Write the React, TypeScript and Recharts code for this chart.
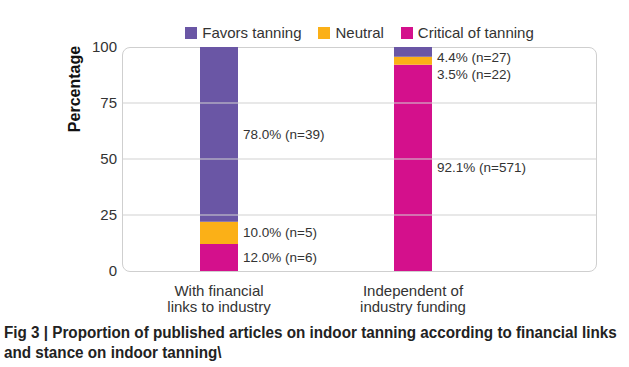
import {
  BarChart, Bar, XAxis, YAxis, Legend, LabelList, ReferenceLine,
} from 'recharts';

const categories = ['With financial links to industry', 'Independent of industry funding'];
const categoryLines = [['With financial', 'links to industry'], ['Independent of', 'industry funding']];
const favors = [78.0, 4.4];
const neutral = [10.0, 3.5];
const critical = [12.0, 92.1];
const favorsN = [39, 27];
const neutralN = [5, 22];
const criticalN = [6, 571];
const yTicks = [0, 25, 50, 75, 100];
const gridValues = [25, 50, 75];

const series = [
  { key: 'favors', name: 'Favors tanning', color: '#6a56a5' },
  { key: 'neutral', name: 'Neutral', color: '#fbb017' },
  { key: 'critical', name: 'Critical of tanning', color: '#d4108c' },
];

const data = categories.map((c, i) => ({
  name: c, favors: favors[i], neutral: neutral[i], critical: critical[i],
}));

const FONT = '"Liberation Sans", Arial, sans-serif';
const TEXT = '#333';
const M = { top: 47, right: 32, bottom: 4, left: 62 };
const W = 629, H = 320, Y_W = 60, X_H = 45;

// small labels on the second bar are pushed down so they don't collide
const makeLabel = (counts: number[], shift: number[]) => (p: any) => {
  const x = Number(p.x), y = Number(p.y), w = Number(p.width), h = Number(p.height);
  const i = p.index;
  return (
    <text x={x + w + 5} y={y + h / 2 + (shift[i] || 0)} dominantBaseline="central"
      fontSize={13.5} fontFamily={FONT} fill={TEXT}>
      {`${Number(p.value).toFixed(1)}% (n=${counts[i]})`}
    </text>
  );
};

function CategoryTick({ x, y, index }: any) {
  const lines = categoryLines[index] || [];
  return (
    <g>
      {lines.map((l, k) => (
        <text key={k} x={x} y={y + 17 + k * 16} textAnchor="middle" fontSize={15} fontFamily={FONT} fill={TEXT}>{l}</text>
      ))}
    </g>
  );
}

function LegendContent() {
  return (
    <div style={{ display: 'flex', justifyContent: 'center', fontFamily: FONT, fontSize: 15, color: TEXT }}>
      {series.map((s, i) => (
        <div key={s.key} style={{ display: 'flex', alignItems: 'center', marginRight: i < series.length - 1 ? 17 : 0 }}>
          <span style={{ display: 'inline-block', width: 12, height: 12, background: s.color, marginRight: 5 }} />
          <span>{s.name}</span>
        </div>
      ))}
    </div>
  );
}

function YLabel({ viewBox }: any) {
  const cx = viewBox.x + 12;
  const cy = viewBox.y + 42;
  return (
    <text x={cx} y={cy} transform={`rotate(-90, ${cx}, ${cy})`} textAnchor="middle" dominantBaseline="central"
      fontSize={16} fontWeight="bold" fontFamily={FONT} fill="#111">Percentage</text>
  );
}

export default function App() {
  const plotLeft = M.left + Y_W;
  const plotW = W - plotLeft - M.right;
  const plotH = H - M.top - M.bottom - X_H;
  return (
    <div style={{ position: 'absolute', left: 0, top: 0, width: 629, height: 367, background: '#fff' }}>
      {/* rounded frame round the plot area */}
      <div style={{
        position: 'absolute', left: plotLeft, top: M.top, width: plotW - 2, height: plotH - 1,
        border: '1.2px solid #cfcfcf', borderRadius: 8,
      }} />
      <div style={{ position: 'absolute', left: 0, top: 0 }}>
        <BarChart width={W} height={H} data={data} margin={M}>
          {gridValues.map(v => (
            <ReferenceLine key={v} y={v} stroke="#d2d2d2" strokeWidth={1.2} />
          ))}
          <XAxis dataKey="name" axisLine={false} tickLine={false} height={X_H} interval={0}
            padding={{ left: 0, right: 87 }} tick={<CategoryTick />} />
          <YAxis domain={[0, 100]} ticks={yTicks} axisLine={false} tickLine={false} tickSize={0} tickMargin={5} width={Y_W}
            tick={{ fontSize: 15, fill: TEXT, fontFamily: FONT }} label={<YLabel />} />
          <Legend verticalAlign="middle" layout="horizontal" content={<LegendContent />}
            wrapperStyle={{ left: 118, width: 483, top: 24, height: 18 }} />
          <Bar dataKey="critical" name="Critical of tanning" stackId="s" fill="#d4108c" barSize={38} isAnimationActive={false}>
            <LabelList dataKey="critical" content={makeLabel(criticalN, [0, 0])} />
          </Bar>
          <Bar dataKey="neutral" name="Neutral" stackId="s" fill="#fbb017" barSize={38} isAnimationActive={false}>
            <LabelList dataKey="neutral" content={makeLabel(neutralN, [0, 14])} />
          </Bar>
          <Bar dataKey="favors" name="Favors tanning" stackId="s" fill="#6a56a5" barSize={38} isAnimationActive={false}>
            <LabelList dataKey="favors" content={makeLabel(favorsN, [0, 6])} />
          </Bar>
        </BarChart>
      </div>
      <div style={{
        position: 'absolute', left: 4, top: 323, whiteSpace: 'nowrap', fontFamily: FONT,
        fontWeight: 'bold', fontSize: 16, lineHeight: '20px', color: '#222',
        transform: 'scaleX(0.952)', transformOrigin: 'left top',
      }}>
        Fig 3 | Proportion of published articles on indoor tanning according to financial links<br />
        and stance on indoor tanning\
      </div>
    </div>
  );
}
